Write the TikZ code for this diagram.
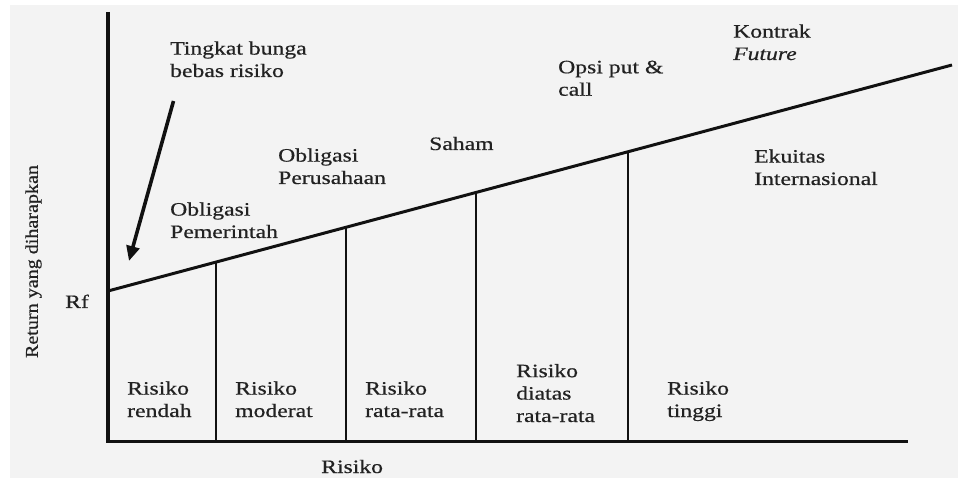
\documentclass[tikz,border=0pt]{standalone}
\usepackage{fontspec}
\setmainfont{Liberation Serif}[FakeStretch=1.25, FakeBold=0.6]
\newfontfamily\axislabelfont{Liberation Serif}[FakeStretch=1.12, FakeBold=0.6]
\usetikzlibrary{arrows.meta}
\definecolor{paper}{HTML}{F3F3F3}
\definecolor{ink}{HTML}{111111}
\definecolor{txt}{HTML}{222222}
\tikzset{
  % multi-line labels are placed by the baseline of their last line
  lbl/.style={anchor=base west, inner sep=0pt, align=left, text=txt,
              font=\fontsize{19}{22.5}\selectfont},
  axisline/.style={draw=ink, line width=3.2pt, line join=miter},
  sml/.style={draw=ink, line width=3pt},
  divider/.style={draw=ink, line width=1.8pt},
  pointer/.style={draw=ink, line width=3.6pt,
                  -{Triangle[length=15pt,width=13pt]}}
}
\begin{document}
\begin{tikzpicture}[x=1bp, y=-1bp]
  % canvas
  \fill[white] (0,0) rectangle (958,478);
  \useasboundingbox (0,0) rectangle (958,478);
  \fill[paper] (10,5) rectangle (958,478);

  % axes
  \coordinate (ytop) at (108,12);
  \coordinate (origin) at (108,441.5);
  \coordinate (xend) at (908,441.5);
  \draw[axisline] (ytop) -- (origin) -- (xend);

  % security market line
  \coordinate (rf) at (108,291);
  \coordinate (smlend) at (952,65);
  \draw[sml] (rf) -- (smlend);

  % risk class dividers
  \coordinate (d1t) at (216,262.1); \coordinate (d1b) at (216,441.5);
  \coordinate (d2t) at (346,227.3); \coordinate (d2b) at (346,441.5);
  \coordinate (d3t) at (476,192.5); \coordinate (d3b) at (476,441.5);
  \coordinate (d4t) at (628,151.7); \coordinate (d4b) at (628,441.5);
  \draw[divider] (d1t) -- (d1b);
  \draw[divider] (d2t) -- (d2b);
  \draw[divider] (d3t) -- (d3b);
  \draw[divider] (d4t) -- (d4b);

  % instrument labels
  \node[lbl] (riskfree) at (170,77) {Tingkat bunga\\bebas risiko};
  \node[lbl] (govbond) at (170,238) {Obligasi\\Pemerintah};
  \node[lbl] (corpbond) at (278,184) {Obligasi\\Perusahaan};
  \node[lbl] (stock) at (429,150) {Saham};
  \node[lbl] (option) at (558,95.7) {Opsi put \&\\call};
  \node[lbl] (futures) at (733,60) {Kontrak\\\textit{Future}};
  \node[lbl] (intleq) at (754,185) {Ekuitas\\Internasional};
  \node[lbl] (rflbl) at (65,308) {Rf};

  % pointer to the risk-free rate
  \coordinate (ptip) at (129,261);
  \coordinate (pstart) at (173.5,101);
  \draw[pointer] (pstart) -- (ptip);

  % risk classes
  \node[lbl] (low) at (127,417) {Risiko\\rendah};
  \node[lbl] (mod) at (235,417) {Risiko\\moderat};
  \node[lbl] (avg) at (365,417) {Risiko\\rata-rata};
  \node[lbl] (aavg) at (516,422) {Risiko\\diatas\\rata-rata};
  \node[lbl] (high) at (667,417) {Risiko\\tinggi};

  % axis titles
  \node[lbl] (xlbl) at (321,473) {Risiko};
  \node[inner sep=0pt, text=txt, rotate=90,
        font=\axislabelfont\fontsize{18}{20}\selectfont]
        (ylbl) at (33.5,261.5) {Return yang diharapkan};
\end{tikzpicture}
\end{document}
